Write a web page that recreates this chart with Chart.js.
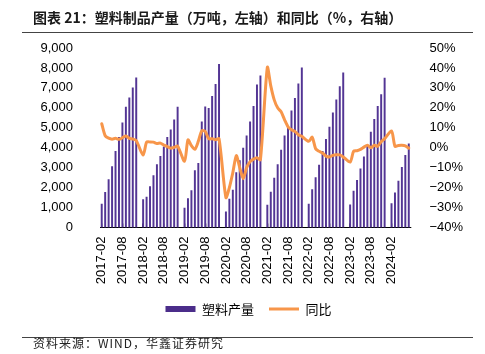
<!DOCTYPE html>
<html>
<head>
<meta charset="utf-8">
<script src="https://cdn.jsdelivr.net/npm/chart.js@4"></script>
<style>
  body { margin: 0; background: #fff; }
  #wrap { position: relative; width: 485px; height: 354px; overflow: hidden; }
  #chart { position: absolute; left: 0; top: 0; }
  .title { position: absolute; left: 33px; top: 8px; font: bold 14px "Noto Sans CJK SC"; color: #1a1a1a; line-height: 18px; white-space: nowrap; }
  .rule { position: absolute; left: 22px; width: 451px; border-top: 1px solid #444; }
  .source { position: absolute; left: 33px; top: 334px; font: 12px "Noto Sans CJK SC"; letter-spacing: 1px; color: #222; line-height: 18px; white-space: nowrap; }
</style>
</head>
<body>
<div id="wrap">
  <canvas id="chart" width="485" height="354"></canvas>
  <div class="title">图表 21：塑料制品产量（万吨，左轴）和同比（%，右轴）</div>
  <div class="rule" style="top:32px"></div>
  <div class="rule" style="top:337px"></div>
  <div class="source">资料来源：WIND，华鑫证券研究</div>
</div>
<script>
/* ------------------
  data
-------------------*/
var years = ['2017', '2018', '2019', '2020', '2021', '2022', '2023', '2024'];
var months = ['01', '02', '03', '04', '05', '06', '07', '08', '09', '10', '11', '12'];

// 塑料制品产量，累计值（万吨），每年从2月开始
var output2017 = [1180, 1760, 2400, 3050, 3820, 4520, 5250, 6040, 6500, 7000, 7510];
var output2018 = [1400, 1520, 2050, 2600, 3150, 3570, 4040, 4520, 4900, 5400, 6040];
var output2019 = [970, 1450, 1850, 2860, 3220, 5300, 6050, 5980, 6580, 7180, 8180];
var output2020 = [780, 1420, 1880, 2750, 3350, 3980, 4600, 5300, 6080, 7150, 7600];
var output2021 = [1130, 1770, 2480, 3150, 3880, 4600, 5050, 5850, 6480, 7200, 8000];
var output2022 = [1170, 1900, 2500, 3130, 3820, 4420, 5040, 5750, 6400, 7060, 7760];
var output2023 = [1140, 1830, 2370, 2940, 3540, 4100, 4780, 5420, 6080, 6670, 7490];
var output2024 = [1200, 1740, 2330, 3020, 3620, 4200];

// 同比（%）
var yoy2017 = [12, 6, 4.8, 4.3, 4.7, 4.2, 5, 5.9, 4.7, 4.4, 3.6];
var yoy2018 = [-3.7, 2.8, 2.9, 2.8, 2.1, 2.3, 1.3, 0.6, -0.2, 0.2, 0.8];
var yoy2019 = [-6.8, 4, 1, -0.8, 3.2, 8.5, 8.2, 4.5, 4.5, 4, 4.5];
var yoy2020 = [-25, -20, -12.5, -4, -10, -15.5, -10, -7, -5.7, -5, -6];
var yoy2021 = [40.3, 31, 24, 20, 18, 14, 10.5, 9, 8.2, 6.5, 5.7];
var yoy2022 = [3.2, 5.3, -0.5, -1.8, -2.7, -4.2, -4.7, -3.8, -3.5, -3.6, -4.6];
var yoy2023 = [-7.2, -1.8, -1.5, -0.8, 0.3, 1.3, 0, 1.2, 0.8, 3, 4.5];
var yoy2024 = [8.4, 0.7, 1.1, 1.2, 0.9, -0.2];

var outputByYear = [output2017, output2018, output2019, output2020, output2021, output2022, output2023, output2024];
var yoyByYear = [yoy2017, yoy2018, yoy2019, yoy2020, yoy2021, yoy2022, yoy2023, yoy2024];

// 1月没有数据，留空位
var labels = [], output = [], yoy = [];
years.forEach(function (y, i) {
  months.forEach(function (m, j) {
    if (j === 0) {
      if (i === 0) return;
      labels.push(y + '-' + m); output.push(null); yoy.push(null);
      return;
    }
    var v = outputByYear[i][j - 1];
    if (v === undefined) return;
    labels.push(y + '-' + m);
    output.push(v);
    yoy.push(yoyByYear[i][j - 1]);
  });
});

var purple = '#533594';
var orange = '#F7964A';
var tickFont = { family: 'Liberation Sans', size: 13 };

/* ------------------
  chart
-------------------*/
new Chart(document.getElementById('chart'), {
  type: 'bar',
  data: {
    labels: labels,
    datasets: [
      {
        type: 'line',
        label: '同比',
        data: yoy,
        yAxisID: 'y1',
        borderColor: orange,
        borderWidth: 3,
        pointRadius: 0,
        tension: 0.25,
        spanGaps: true,
        borderCapStyle: 'round',
        borderJoinStyle: 'round',
        order: 0
      },
      {
        label: '塑料产量',
        data: output,
        yAxisID: 'y',
        backgroundColor: purple,
        barThickness: 1.3,
        order: 1
      }
    ]
  },
  options: {
    responsive: false,
    animation: false,
    devicePixelRatio: 1,
    layout: { padding: { left: 12, right: 0, top: 48, bottom: 28.5 } },
    plugins: {
      tooltip: { enabled: false },
      legend: {
        position: 'bottom',
        labels: {
          usePointStyle: true,
          pointStyleWidth: 30,
          boxHeight: 6,
          padding: 15,
          color: '#222',
          font: { family: 'Noto Sans CJK SC', size: 13 },
          generateLabels: function () {
            return [
              { text: '塑料产量', fillStyle: '#4B2D8A', strokeStyle: '#4B2D8A', lineWidth: 0, pointStyle: 'rect', datasetIndex: 1 },
              { text: '同比', fillStyle: orange, strokeStyle: orange, lineWidth: 3, pointStyle: 'line', datasetIndex: 0 }
            ];
          }
        }
      }
    },
    scales: {
      x: {
        offset: true,
        grid: {
          offset: false,
          drawOnChartArea: false,
          tickLength: -4,
          lineWidth: 1.3,
          color: function (ctx) { return ctx.index % 6 === 0 ? '#333' : 'rgba(0,0,0,0)'; }
        },
        border: { display: true, color: '#000', width: 1 },
        ticks: {
          autoSkip: false,
          minRotation: 90,
          maxRotation: 90,
          padding: 13,
          color: '#000',
          font: tickFont,
          callback: function (v, i) { return i % 6 === 0 ? this.getLabelForValue(v) : ''; }
        },
        afterFit: function (s) { s.height = 60; }
      },
      y: {
        position: 'left',
        min: 0,
        max: 9000,
        grid: { display: false },
        border: { display: false },
        ticks: {
          stepSize: 1000,
          padding: 19,
          color: '#000',
          font: tickFont,
          callback: function (v) { return v.toLocaleString('en-US'); }
        },
        afterFit: function (s) { s.width = 88; }
      },
      y1: {
        position: 'right',
        min: -40,
        max: 50,
        grid: { display: false },
        border: { display: false },
        ticks: {
          stepSize: 10,
          padding: 11,
          color: '#000',
          font: tickFont,
          callback: function (v) { return (v < 0 ? '\u2212' + Math.abs(v) : v) + '%'; }
        },
        afterFit: function (s) { s.width = 74.5; }
      }
    }
  }
});
</script>
</body>
</html>
